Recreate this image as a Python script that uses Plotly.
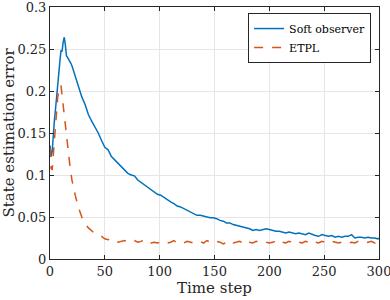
import plotly.graph_objects as go

time_step = [0, 1, 2, 3, 4, 5, 6, 7, 8, 9, 10, 11, 12, 13, 14, 15, 16, 17, 18, 19, 20,
             23, 26, 29, 32, 35, 38, 41, 44, 47, 50, 53, 56, 59, 62, 65, 68, 71, 74, 77,
             80, 83, 86, 89, 92, 95, 98, 101, 104, 107, 110, 113, 116, 119, 122, 125, 128,
             131, 134, 137, 140, 143, 146, 149, 152, 155, 158, 161, 164, 167, 170, 173, 176,
             179, 182, 185, 188, 191, 194, 197, 200, 203, 206, 209, 212, 215, 218, 221, 224,
             227, 230, 233, 236, 239, 242, 245, 248, 251, 254, 257, 260, 263, 266, 269, 272,
             275, 278, 281, 284, 287, 290, 293, 296, 299, 300]

soft_observer = [0.135, 0.122, 0.128, 0.150, 0.165, 0.178, 0.195, 0.205, 0.222, 0.235, 0.248,
                 0.247, 0.258, 0.264, 0.255, 0.242, 0.240, 0.238, 0.236, 0.233, 0.230,
                 0.218, 0.205, 0.193, 0.184, 0.172, 0.164, 0.157, 0.150, 0.141, 0.133, 0.130,
                 0.122, 0.118, 0.114, 0.109, 0.106, 0.102, 0.100, 0.099, 0.094, 0.091, 0.088,
                 0.086, 0.083, 0.080, 0.077, 0.076, 0.073, 0.070, 0.068, 0.066, 0.063, 0.062,
                 0.060, 0.058, 0.056, 0.054, 0.052, 0.052, 0.051, 0.050, 0.049, 0.049, 0.048,
                 0.046, 0.045, 0.043, 0.043, 0.041, 0.040, 0.039, 0.038, 0.037, 0.036, 0.034,
                 0.035, 0.034, 0.035, 0.036, 0.035, 0.034, 0.033, 0.033, 0.032, 0.031, 0.032,
                 0.031, 0.030, 0.031, 0.030, 0.029, 0.031, 0.029, 0.028, 0.027, 0.029, 0.028,
                 0.027, 0.028, 0.026, 0.027, 0.026, 0.027, 0.027, 0.029, 0.025, 0.026, 0.026,
                 0.025, 0.026, 0.025, 0.025, 0.024, 0.025]

etpl = [0.132, 0.108, 0.106, 0.125, 0.148, 0.165, 0.180, 0.192, 0.200, 0.205, 0.207, 0.195,
        0.182, 0.170, 0.160, 0.148, 0.138, 0.125, 0.113, 0.103, 0.094,
        0.076, 0.061, 0.050, 0.042, 0.037, 0.033, 0.030, 0.028, 0.027, 0.024, 0.023, 0.024,
        0.021, 0.020, 0.021, 0.022, 0.020, 0.021, 0.022, 0.020, 0.021, 0.023, 0.020, 0.019,
        0.020, 0.019, 0.020, 0.021, 0.019, 0.020, 0.022, 0.019, 0.020, 0.019, 0.021, 0.020,
        0.019, 0.020, 0.021, 0.019, 0.022, 0.020, 0.019, 0.021, 0.020, 0.018, 0.020, 0.022,
        0.019, 0.020, 0.021, 0.019, 0.022, 0.020, 0.019, 0.021, 0.020, 0.019, 0.020, 0.019,
        0.020, 0.021, 0.018, 0.020, 0.019, 0.021, 0.020, 0.022, 0.020, 0.019, 0.021, 0.020,
        0.018, 0.020, 0.019, 0.021, 0.020, 0.019, 0.021, 0.020, 0.019, 0.020, 0.021, 0.019,
        0.020, 0.019, 0.021, 0.020, 0.019, 0.020, 0.021, 0.019, 0.020, 0.020]

assert len(time_step) == len(soft_observer) == len(etpl), (len(time_step), len(soft_observer), len(etpl))

FONT = "DejaVu Serif"

fig = go.Figure()
fig.add_trace(go.Scatter(x=time_step, y=soft_observer, mode="lines", name="Soft observer",
                         line=dict(color="#0072BD", width=1.5)))
fig.add_trace(go.Scatter(x=time_step, y=etpl, mode="lines", name="ETPL",
                         line=dict(color="#D95319", width=1.5, dash="dash")))

axis_common = dict(showline=True, linecolor="#262626", linewidth=1, mirror="ticks",
                   ticks="inside", ticklen=4, tickcolor="#262626",
                   showgrid=True, gridcolor="#e6e6e6", gridwidth=1, zeroline=False,
                   automargin=False, ticklabeloverflow="allow",
                   tickfont=dict(family=FONT, size=13, color="#262626"))

fig.update_layout(
    width=390, height=300,
    margin=dict(l=50, r=11, t=7, b=41),
    paper_bgcolor="white", plot_bgcolor="white",
    font=dict(family=FONT, color="#262626"),
    xaxis=dict(range=[0, 300], dtick=50, tick0=0,
               title=dict(text="Time step", font=dict(family=FONT, size=15), standoff=2),
               **axis_common),
    yaxis=dict(range=[0, 0.3], dtick=0.05, tick0=0,
               title=dict(text="State estimation error", font=dict(family=FONT, size=15), standoff=4),
               **axis_common),
    legend=dict(x=0.976, y=0.976, xanchor="right", yanchor="top",
                bgcolor="white", bordercolor="#262626", borderwidth=1,
                font=dict(family=FONT, size=11, color="#000"),
                tracegroupgap=0, itemwidth=30),
    showlegend=True,
)

fig.write_html("out.html", config={"displayModeBar": False},
               post_script="document.body.style.margin='0';document.body.style.padding='0';")
